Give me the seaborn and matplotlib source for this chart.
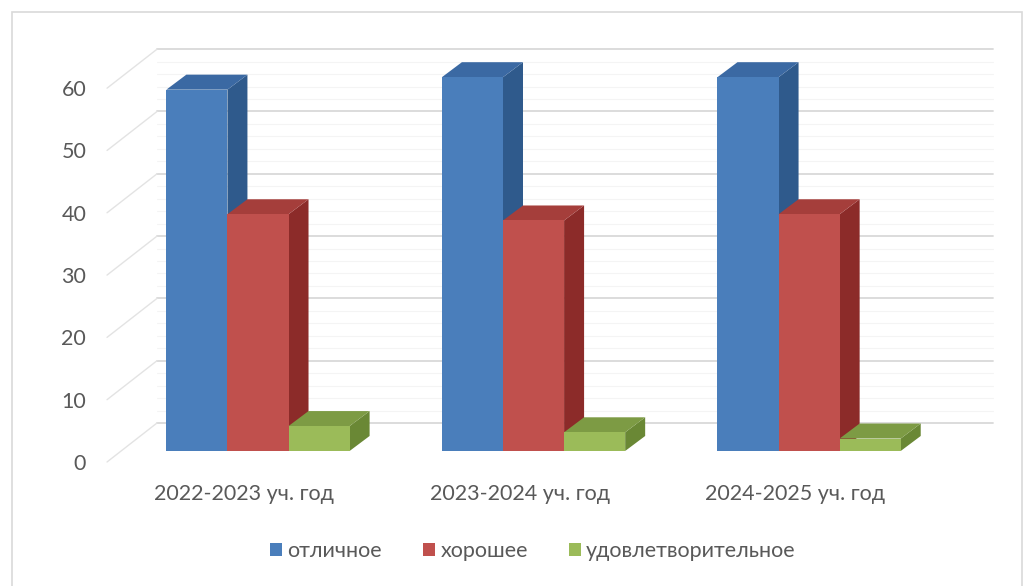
import numpy as np
import pandas as pd
import matplotlib
matplotlib.use('Agg')
import matplotlib.pyplot as plt
import matplotlib.transforms as mtransforms
from matplotlib.patches import Polygon, Rectangle
import seaborn as sns

# data
years = ['2022-2023 уч. год', '2023-2024 уч. год', '2024-2025 уч. год']
grades = ['отличное', 'хорошее', 'удовлетворительное']
excellent = [58, 60, 60]
good = [38, 37, 38]
satisfactory = [4, 3, 2]
yticks = [0, 10, 20, 30, 40, 50, 60]

front_colors = ['#4a7ebb', '#c0504d', '#9bbb59']
top_colors = ['#3b69a3', '#a53e3b', '#7d9b44']
side_colors = ['#2f5a8c', '#8c2b29', '#6a8835']

df = pd.DataFrame({
    'year': years * 3,
    'grade': np.repeat(grades, len(years)),
    'value': excellent + good + satisfactory,
})

sns.set_style('white')
plt.rcParams['font.family'] = ['Lato', 'DejaVu Sans']

DPI = 100
fig = plt.figure(figsize=(10.3, 5.86), dpi=DPI)
fig.patches.append(Rectangle((12 / 1030, -0.01), 1010 / 1030, 1 - 12 / 586 + 0.01,
                             transform=fig.transFigure, fill=False,
                             edgecolor='#d9d9d9', lw=1.2))
ax = fig.add_axes([0.1175, 0.2304, 0.8117, 0.6804])

sns.barplot(data=df, x='year', y='value', hue='grade', hue_order=grades,
            palette=front_colors, width=0.665, saturation=1, legend=False,
            errorbar=None, ax=ax, zorder=3, linewidth=0, edgecolor='none')

xmin, xmax, ymin, ymax = -0.497, 2.537, 0, 64
ax.set_xlim(xmin, xmax)
ax.set_ylim(ymin, ymax)
sns.despine(ax=ax, left=True, bottom=True)
ax.set_xlabel('')
ax.set_ylabel('')

# pixels per data unit
ppx = 0.8117 * 1030 / (xmax - xmin)
ppy = 0.6804 * 586 / (ymax - ymin)

def dx(px):
    return px / ppx

def dy(py):
    return py / ppy

# back wall and floor lines
wall_x, wall_y = dx(36), dy(28)
front_x, front_y = dx(-14), dy(-11)
for v in yticks:
    ax.plot([xmin + wall_x, xmax + wall_x], [v + wall_y, v + wall_y],
            color='#d9d9d9', lw=1.3, zorder=1, clip_on=False)
    ax.plot([xmin + front_x, xmin + wall_x], [v + front_y, v + wall_y],
            color='#e3e3e3', lw=1.0, zorder=1, clip_on=False)
for v in np.arange(2, 60, 2):
    if v % 10:
        ax.plot([xmin + wall_x, xmax + wall_x], [v + wall_y, v + wall_y],
                color='#f4f4f4', lw=0.8, zorder=0.5, clip_on=False)

# 3d faces built from the seaborn bars
depth_x, depth_y = dx(20), dy(15)
for i, cont in enumerate(ax.containers):
    for bar in cont:
        bar.set_zorder(3 + 2 * i)
        x, w, h = bar.get_x(), bar.get_width(), bar.get_height()
        side = Polygon([(x + w, 0), (x + w + depth_x, depth_y),
                        (x + w + depth_x, h + depth_y), (x + w, h)],
                       closed=True, facecolor=side_colors[i], lw=0, zorder=2 + 2 * i)
        top = Polygon([(x, h), (x + depth_x, h + depth_y),
                       (x + w + depth_x, h + depth_y), (x + w, h)],
                      closed=True, facecolor=top_colors[i], lw=0, zorder=2 + 2 * i)
        ax.add_patch(side)
        ax.add_patch(top)

# ticks sit on the front edge of the floor
ax.set_yticks(yticks)
ax.tick_params(axis='y', length=0, pad=15, labelsize=15.5, labelcolor='#595959')
ax.tick_params(axis='x', length=0, pad=16, labelsize=15.5, labelcolor='#595959')
shift = mtransforms.ScaledTranslation(-14 / DPI, -11 / DPI, fig.dpi_scale_trans)
for lab in ax.get_yticklabels() + ax.get_xticklabels():
    lab.set_transform(lab.get_transform() + shift)

handles = [Rectangle((0, 0), 1, 1, facecolor=c, lw=0) for c in front_colors]
fig.legend(handles, grades, loc='center', bbox_to_anchor=(533 / 1030, 1 - 551 / 586),
           ncol=3, frameon=False, fontsize=15.5, labelcolor='#595959',
           handlelength=0.55, handleheight=0.55, handletextpad=0.25, columnspacing=1.9)

fig.savefig('out.png', dpi=DPI)
